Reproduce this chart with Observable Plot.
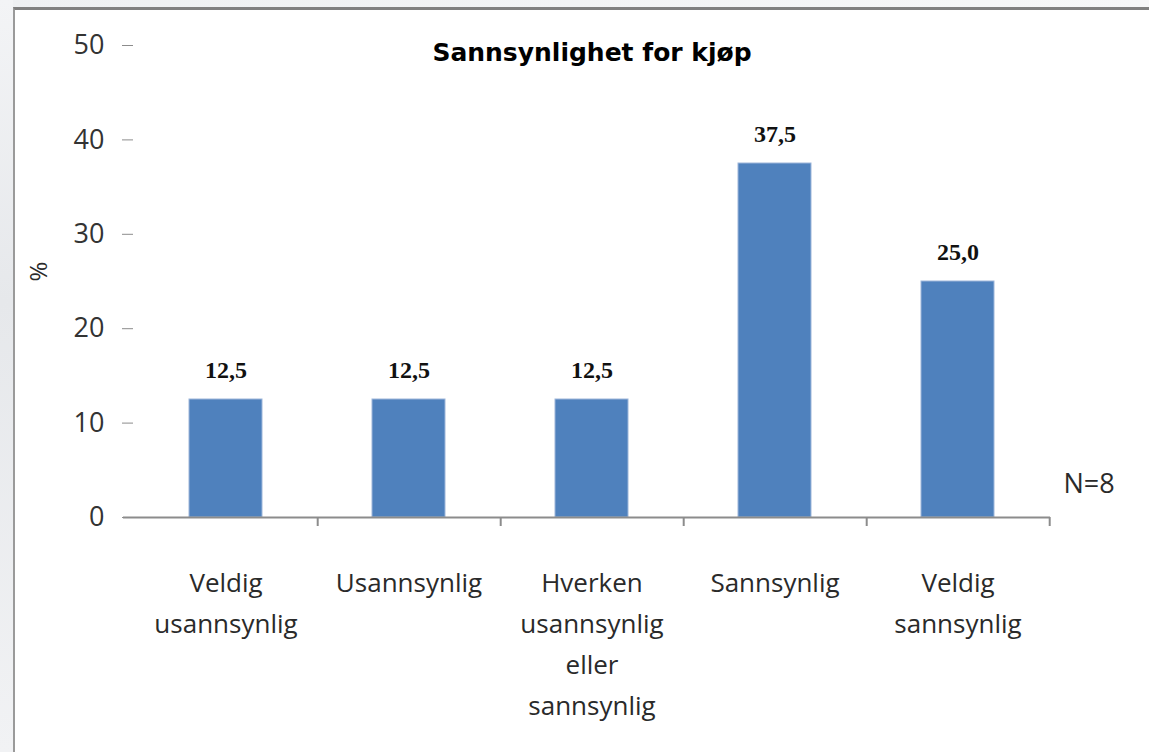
<!DOCTYPE html>
<html>
<head>
<meta charset="utf-8">
<script src="https://cdn.jsdelivr.net/npm/d3@7"></script>
<script src="https://cdn.jsdelivr.net/npm/@observablehq/plot@0.6"></script>
<style>
  html, body { margin: 0; padding: 0; overflow: hidden; background: #fff; }
  ::-webkit-scrollbar { display: none; width: 0; height: 0; }
  html { scrollbar-width: none; }
  #stage { position: relative; width: 1149px; height: 752px; overflow: hidden; background: #fff; }
  #outerTop { position: absolute; left: 0; top: 0; width: 1149px; height: 7px;
              background: linear-gradient(90deg, #eef0f2, #f6f7f8); }
  #outerLeft { position: absolute; left: 0; top: 0; width: 13px; height: 752px;
               background: linear-gradient(180deg, #f3f4f6 0%, #e6e8eb 40%, #f1f2f4 100%); }
  #frame { position: absolute; left: 13px; top: 7px; width: 1136px; height: 745px; background: #fff;
           border-left: 2px solid #9a9a9a; border-top: 3px solid #808080; box-sizing: border-box; }
  #chart { position: absolute; left: 0; top: 0; width: 1149px; height: 752px; overflow: hidden; }
</style>
</head>
<body>
<div id="stage">
  <div id="outerTop"></div>
  <div id="outerLeft"></div>
  <div id="frame"></div>
  <div id="chart"></div>
</div>
<script>
const categories = ["Veldig usannsynlig", "Usannsynlig", "Hverken usannsynlig eller sannsynlig", "Sannsynlig", "Veldig sannsynlig"];
const categoryLabels = ["Veldig\nusannsynlig", "Usannsynlig", "Hverken\nusannsynlig\neller\nsannsynlig", "Sannsynlig", "Veldig\nsannsynlig"];
const values = [12.5, 12.5, 12.5, 37.5, 25.0];
const yTicks = [0, 10, 20, 30, 40, 50];
const titleText = "Sannsynlighet for kjøp";
const noteText = "N=8";
const yLabel = "%";

const data = categories.map((c, i) => ({category: c, label: categoryLabels[i], value: values[i]}));

const W = 1149, H = 752, mL = 133, mR = 99, mT = 45, mB = 235;
const step = (W - mL - mR) / categories.length;
const fmt = v => v.toFixed(1).replace(".", ",");

const chart = Plot.plot({
  width: W, height: H,
  marginLeft: mL, marginRight: mR, marginTop: mT, marginBottom: mB,
  style: {background: "transparent", fontFamily: "'Open Sans', sans-serif"},
  x: {domain: categories, paddingInner: 0.6, paddingOuter: 0.3, axis: null},
  y: {domain: [0, 50], axis: null},
  marks: [
    Plot.barY(data, {x: "category", y: "value", fill: "#4f81bd", stroke: "#9db6da", strokeWidth: 1}),
    Plot.ruleY([0], {stroke: "#8c8c8c", strokeWidth: 2, insetLeft: -10}),
    Plot.ruleX(data, {x: "category", y1: 0, y2: 0, insetBottom: -9, dx: step / 2, stroke: "#8c8c8c", strokeWidth: 2}),
    Plot.axisY({ticks: yTicks, tickSize: 11, tickPadding: 18, fontSize: 27, stroke: "#8c8c8c", fill: "#333", label: null}),
    Plot.text(data, {x: "category", text: "label", frameAnchor: "bottom", lineAnchor: "top", dy: 45,
                     lineHeight: 1.58, fontSize: 26, fill: "#2a2a2a"}),
    Plot.text(data, {x: "category", y: "value", text: d => fmt(d.value), lineAnchor: "bottom", dy: -22,
                     fontFamily: "'Liberation Serif', serif", fontWeight: "bold", fontSize: 24, fill: "#111"}),
    Plot.text([titleText], {frameAnchor: "top", lineAnchor: "bottom", dy: 15,
                     fontFamily: "'DejaVu Sans', sans-serif", fontWeight: "bold", fontSize: 25, fill: "#000"}),
    Plot.text([noteText], {frameAnchor: "bottom-right", textAnchor: "start", lineAnchor: "bottom", dx: 13, dy: -25,
                     fontSize: 27, fill: "#2a2a2a"}),
    Plot.text([yLabel], {frameAnchor: "left", rotate: -90, dx: -94, fontSize: 24, fill: "#2a2a2a"})
  ]
});
document.getElementById("chart").appendChild(chart);
</script>
</body>
</html>
